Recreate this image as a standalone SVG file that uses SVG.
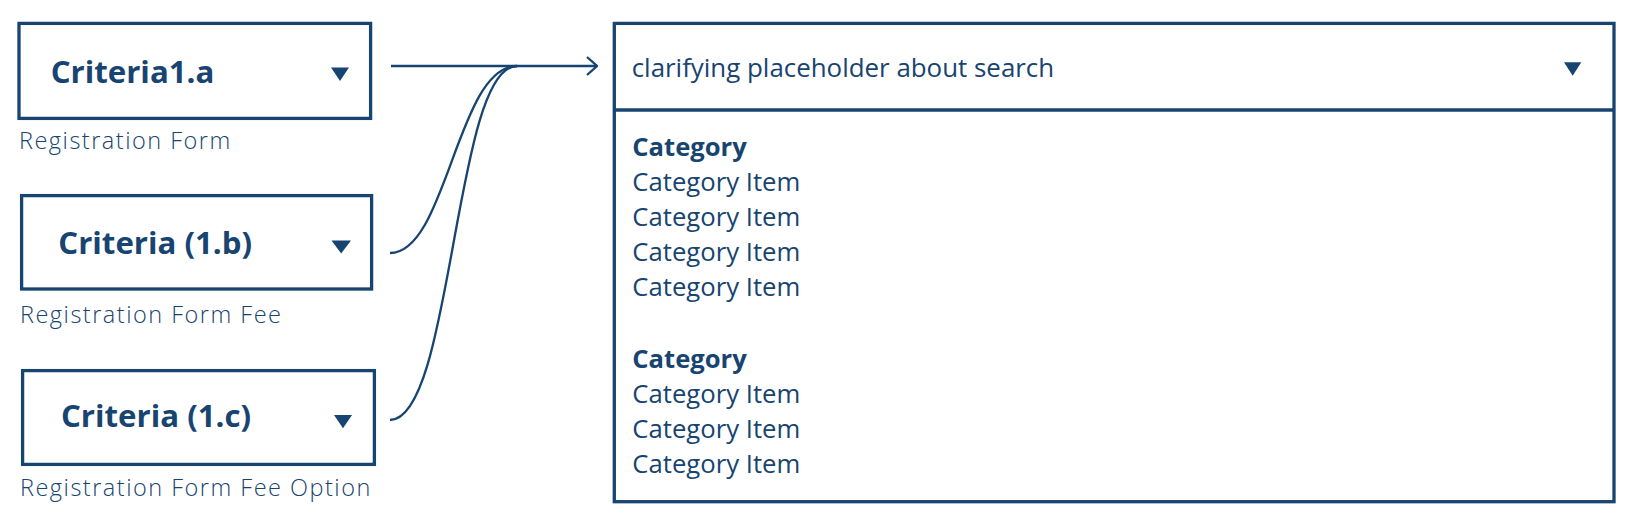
<svg xmlns="http://www.w3.org/2000/svg" width="1638" height="531" viewBox="0 0 1638 531">
<defs>
<style>
.box{fill:#fff;stroke:#174470;stroke-width:3.3}
.tri{fill:#174470}
.crit{font-family:"Open Sans","Noto Sans",sans-serif;font-weight:700;font-size:31.2px;fill:#174470}
.sub{font-family:"Open Sans","Noto Sans",sans-serif;font-weight:300;font-size:23.5px;letter-spacing:1.5px;fill:#174470}
.ph{font-family:"Open Sans","Noto Sans",sans-serif;font-weight:400;font-size:25.9px;fill:#174470}
.cat{font-family:"Open Sans","Noto Sans",sans-serif;font-weight:700;font-size:25.6px;fill:#174470}
.item{font-family:"Open Sans","Noto Sans",sans-serif;font-weight:400;font-size:25.7px;fill:#174470}
.conn{fill:none;stroke:#174470;stroke-width:2.3}
</style>
<marker id="arr" viewBox="0 0 12 20" refX="11" refY="10" markerWidth="12" markerHeight="20" markerUnits="userSpaceOnUse" orient="auto">
<path d="M1,1 L11,10 L1,19" fill="none" stroke="#174470" stroke-width="2.3"/>
</marker>
</defs>
<rect width="1638" height="531" fill="#fff"/>
<g id="connectors">
<path class="conn" d="M391,66 L597,66" marker-end="url(#arr)"/>
<path class="conn" d="M390,253 C447,253 457,66 517,66"/>
<path class="conn" d="M390,420 C453,420 454,66 517,66"/>
</g>
<g id="criteria-a">
<rect class="box" x="19" y="23.4" width="351.6" height="95"/>
<text class="crit" x="50.7" y="82.7">Criteria1.a</text>
<path class="tri" d="M331,67.5 L349,67.5 L340,81 Z"/>
<text class="sub" x="19" y="149.3">Registration Form</text>
</g>
<g id="criteria-b">
<rect class="box" x="21.6" y="195.6" width="350" height="93.4"/>
<text class="crit" x="58.3" y="254">Criteria (1.b)</text>
<path class="tri" d="M331.5,240.5 L351,240.5 L341.2,253.5 Z"/>
<text class="sub" x="20" y="322.7">Registration Form Fee</text>
</g>
<g id="criteria-c">
<rect class="box" x="22.6" y="370.6" width="351.8" height="93.8"/>
<text class="crit" x="61" y="427.3">Criteria (1.c)</text>
<path class="tri" d="M334,415 L352,415 L343,428.3 Z"/>
<text class="sub" x="20" y="496">Registration Form Fee Option</text>
</g>
<g id="search-dropdown">
<rect class="box" x="614.3" y="23.4" width="999.7" height="478.3"/>
<line x1="614.3" y1="110" x2="1614" y2="110" stroke="#174470" stroke-width="3.3"/>
<text class="ph" x="631.7" y="76.7">clarifying placeholder about search</text>
<path class="tri" d="M1564,62.3 L1581.3,62.3 L1572.7,75.7 Z"/>
<text class="cat" x="632.3" y="155.7">Category</text>
<text class="item" x="632.3" y="191">Category Item</text>
<text class="item" x="632.3" y="226">Category Item</text>
<text class="item" x="632.3" y="261">Category Item</text>
<text class="item" x="632.3" y="295.7">Category Item</text>
<text class="cat" x="632.3" y="367.7">Category</text>
<text class="item" x="632.3" y="402.7">Category Item</text>
<text class="item" x="632.3" y="438.3">Category Item</text>
<text class="item" x="632.3" y="473.3">Category Item</text>
</g>
</svg>
